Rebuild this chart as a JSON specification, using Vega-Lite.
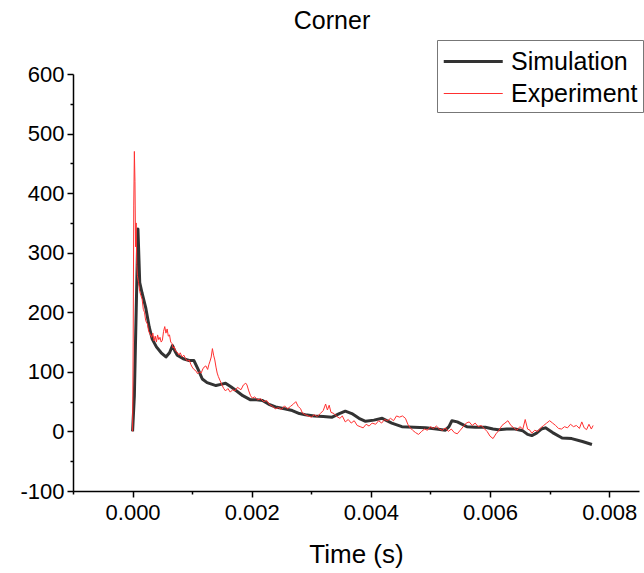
{
  "$schema": "https://vega.github.io/schema/vega-lite/v6.json",
  "width": 566,
  "height": 417,
  "autosize": {"type": "none"},
  "padding": {"left": 73, "top": 74, "right": 5, "bottom": 82},
  "background": "white",
  "config": {
    "font": "Liberation Sans",
    "view": {"stroke": null},
    "axis": {
      "grid": false,
      "domainColor": "#000000",
      "domainWidth": 1.5,
      "tickColor": "#000000",
      "tickWidth": 1.5,
      "labelColor": "#000000",
      "titleColor": "#000000",
      "labelFont": "Liberation Sans",
      "titleFont": "Liberation Sans",
      "labelFontSize": 22,
      "titleFontSize": 26,
      "titleFontWeight": "normal"
    }
  },
  "title": {
    "text": "Corner",
    "fontSize": 25,
    "fontWeight": "normal",
    "font": "Liberation Sans",
    "color": "#000000",
    "anchor": "middle",
    "frame": "group",
    "dx": -24,
    "offset": 6
  },
  "datasets": {
    "sim": [
      {"t": 0, "v": 0, "series": "Simulation"},
      {"t": 0.00003, "v": 60, "series": "Simulation"},
      {"t": 0.00006, "v": 200, "series": "Simulation"},
      {"t": 0.00009, "v": 340, "series": "Simulation"},
      {"t": 0.00012, "v": 250, "series": "Simulation"},
      {"t": 0.00016, "v": 232, "series": "Simulation"},
      {"t": 0.00022, "v": 208, "series": "Simulation"},
      {"t": 0.00028, "v": 175, "series": "Simulation"},
      {"t": 0.00033, "v": 155, "series": "Simulation"},
      {"t": 0.0004, "v": 142, "series": "Simulation"},
      {"t": 0.00048, "v": 132, "series": "Simulation"},
      {"t": 0.00056, "v": 125, "series": "Simulation"},
      {"t": 0.00062, "v": 132, "series": "Simulation"},
      {"t": 0.00067, "v": 144, "series": "Simulation"},
      {"t": 0.00071, "v": 135, "series": "Simulation"},
      {"t": 0.00075, "v": 128, "series": "Simulation"},
      {"t": 0.00085, "v": 122, "series": "Simulation"},
      {"t": 0.00095, "v": 119, "series": "Simulation"},
      {"t": 0.00103, "v": 119, "series": "Simulation"},
      {"t": 0.0011, "v": 104, "series": "Simulation"},
      {"t": 0.00117, "v": 88, "series": "Simulation"},
      {"t": 0.00125, "v": 82, "series": "Simulation"},
      {"t": 0.0014, "v": 77, "series": "Simulation"},
      {"t": 0.00148, "v": 79, "series": "Simulation"},
      {"t": 0.00156, "v": 81, "series": "Simulation"},
      {"t": 0.00165, "v": 75, "series": "Simulation"},
      {"t": 0.00173, "v": 69, "series": "Simulation"},
      {"t": 0.00185, "v": 60, "series": "Simulation"},
      {"t": 0.00198, "v": 53, "series": "Simulation"},
      {"t": 0.00208, "v": 53, "series": "Simulation"},
      {"t": 0.00218, "v": 52, "series": "Simulation"},
      {"t": 0.00228, "v": 46, "series": "Simulation"},
      {"t": 0.0024, "v": 41, "series": "Simulation"},
      {"t": 0.00255, "v": 38, "series": "Simulation"},
      {"t": 0.00268, "v": 35, "series": "Simulation"},
      {"t": 0.0028, "v": 30, "series": "Simulation"},
      {"t": 0.0029, "v": 28, "series": "Simulation"},
      {"t": 0.00305, "v": 26, "series": "Simulation"},
      {"t": 0.0032, "v": 25, "series": "Simulation"},
      {"t": 0.00335, "v": 24, "series": "Simulation"},
      {"t": 0.00347, "v": 30, "series": "Simulation"},
      {"t": 0.00357, "v": 34, "series": "Simulation"},
      {"t": 0.00368, "v": 30, "series": "Simulation"},
      {"t": 0.0038, "v": 22, "series": "Simulation"},
      {"t": 0.00391, "v": 17, "series": "Simulation"},
      {"t": 0.00405, "v": 19, "series": "Simulation"},
      {"t": 0.00419, "v": 22, "series": "Simulation"},
      {"t": 0.00435, "v": 14, "series": "Simulation"},
      {"t": 0.00452, "v": 8, "series": "Simulation"},
      {"t": 0.00472, "v": 7, "series": "Simulation"},
      {"t": 0.00492, "v": 6, "series": "Simulation"},
      {"t": 0.0051, "v": 4, "series": "Simulation"},
      {"t": 0.00525, "v": 2, "series": "Simulation"},
      {"t": 0.00531, "v": 8, "series": "Simulation"},
      {"t": 0.00536, "v": 18, "series": "Simulation"},
      {"t": 0.00545, "v": 16, "series": "Simulation"},
      {"t": 0.00561, "v": 8, "series": "Simulation"},
      {"t": 0.00575, "v": 7, "series": "Simulation"},
      {"t": 0.00592, "v": 7, "series": "Simulation"},
      {"t": 0.00605, "v": 4, "series": "Simulation"},
      {"t": 0.00614, "v": 3, "series": "Simulation"},
      {"t": 0.00628, "v": 4, "series": "Simulation"},
      {"t": 0.00642, "v": 4, "series": "Simulation"},
      {"t": 0.00655, "v": 1, "series": "Simulation"},
      {"t": 0.00663, "v": -5, "series": "Simulation"},
      {"t": 0.0067, "v": -7, "series": "Simulation"},
      {"t": 0.00678, "v": -3, "series": "Simulation"},
      {"t": 0.00686, "v": 4, "series": "Simulation"},
      {"t": 0.00693, "v": 6, "series": "Simulation"},
      {"t": 0.00705, "v": -2, "series": "Simulation"},
      {"t": 0.00721, "v": -11, "series": "Simulation"},
      {"t": 0.00737, "v": -12, "series": "Simulation"},
      {"t": 0.00755, "v": -17, "series": "Simulation"},
      {"t": 0.00771, "v": -22, "series": "Simulation"}
    ],
    "exp": [
      {"t": 0, "v": 0, "series": "Experiment"},
      {"t": 0.00001, "v": 150, "series": "Experiment"},
      {"t": 0.00002, "v": 380, "series": "Experiment"},
      {"t": 0.00003, "v": 470, "series": "Experiment"},
      {"t": 0.00004, "v": 420, "series": "Experiment"},
      {"t": 0.00005, "v": 310, "series": "Experiment"},
      {"t": 0.00006, "v": 350, "series": "Experiment"},
      {"t": 0.00007, "v": 280, "series": "Experiment"},
      {"t": 0.00008, "v": 262, "series": "Experiment"},
      {"t": 0.0001, "v": 250, "series": "Experiment"},
      {"t": 0.00012, "v": 235, "series": "Experiment"},
      {"t": 0.00014, "v": 228, "series": "Experiment"},
      {"t": 0.00016, "v": 222, "series": "Experiment"},
      {"t": 0.00018, "v": 205, "series": "Experiment"},
      {"t": 0.0002, "v": 200, "series": "Experiment"},
      {"t": 0.00022, "v": 186, "series": "Experiment"},
      {"t": 0.00025, "v": 180, "series": "Experiment"},
      {"t": 0.00027, "v": 168, "series": "Experiment"},
      {"t": 0.0003, "v": 162, "series": "Experiment"},
      {"t": 0.00032, "v": 158, "series": "Experiment"},
      {"t": 0.00034, "v": 165, "series": "Experiment"},
      {"t": 0.00036, "v": 152, "series": "Experiment"},
      {"t": 0.00038, "v": 160, "series": "Experiment"},
      {"t": 0.0004, "v": 150, "series": "Experiment"},
      {"t": 0.00042, "v": 162, "series": "Experiment"},
      {"t": 0.00044, "v": 154, "series": "Experiment"},
      {"t": 0.00046, "v": 158, "series": "Experiment"},
      {"t": 0.00048, "v": 150, "series": "Experiment"},
      {"t": 0.0005, "v": 153, "series": "Experiment"},
      {"t": 0.00052, "v": 168, "series": "Experiment"},
      {"t": 0.00054, "v": 176, "series": "Experiment"},
      {"t": 0.00056, "v": 165, "series": "Experiment"},
      {"t": 0.00058, "v": 172, "series": "Experiment"},
      {"t": 0.0006, "v": 160, "series": "Experiment"},
      {"t": 0.00062, "v": 162, "series": "Experiment"},
      {"t": 0.00064, "v": 150, "series": "Experiment"},
      {"t": 0.00066, "v": 148, "series": "Experiment"},
      {"t": 0.00068, "v": 140, "series": "Experiment"},
      {"t": 0.0007, "v": 142, "series": "Experiment"},
      {"t": 0.00072, "v": 135, "series": "Experiment"},
      {"t": 0.00075, "v": 133, "series": "Experiment"},
      {"t": 0.00078, "v": 128, "series": "Experiment"},
      {"t": 0.0008, "v": 132, "series": "Experiment"},
      {"t": 0.00083, "v": 125, "series": "Experiment"},
      {"t": 0.00086, "v": 128, "series": "Experiment"},
      {"t": 0.00089, "v": 122, "series": "Experiment"},
      {"t": 0.00092, "v": 118, "series": "Experiment"},
      {"t": 0.00095, "v": 120, "series": "Experiment"},
      {"t": 0.00098, "v": 112, "series": "Experiment"},
      {"t": 0.001, "v": 108, "series": "Experiment"},
      {"t": 0.00103, "v": 104, "series": "Experiment"},
      {"t": 0.00106, "v": 102, "series": "Experiment"},
      {"t": 0.00109, "v": 97, "series": "Experiment"},
      {"t": 0.00112, "v": 100, "series": "Experiment"},
      {"t": 0.00115, "v": 98, "series": "Experiment"},
      {"t": 0.00118, "v": 105, "series": "Experiment"},
      {"t": 0.0012, "v": 108, "series": "Experiment"},
      {"t": 0.00123, "v": 110, "series": "Experiment"},
      {"t": 0.00126, "v": 104, "series": "Experiment"},
      {"t": 0.00128, "v": 112, "series": "Experiment"},
      {"t": 0.0013, "v": 118, "series": "Experiment"},
      {"t": 0.00132, "v": 125, "series": "Experiment"},
      {"t": 0.00134, "v": 139, "series": "Experiment"},
      {"t": 0.00136, "v": 128, "series": "Experiment"},
      {"t": 0.00138, "v": 120, "series": "Experiment"},
      {"t": 0.0014, "v": 108, "series": "Experiment"},
      {"t": 0.00142, "v": 98, "series": "Experiment"},
      {"t": 0.00144, "v": 92, "series": "Experiment"},
      {"t": 0.00147, "v": 85, "series": "Experiment"},
      {"t": 0.0015, "v": 78, "series": "Experiment"},
      {"t": 0.00153, "v": 72, "series": "Experiment"},
      {"t": 0.00156, "v": 68, "series": "Experiment"},
      {"t": 0.0016, "v": 72, "series": "Experiment"},
      {"t": 0.00164, "v": 66, "series": "Experiment"},
      {"t": 0.00168, "v": 70, "series": "Experiment"},
      {"t": 0.00172, "v": 68, "series": "Experiment"},
      {"t": 0.00176, "v": 74, "series": "Experiment"},
      {"t": 0.00179, "v": 72, "series": "Experiment"},
      {"t": 0.00182, "v": 70, "series": "Experiment"},
      {"t": 0.00186, "v": 78, "series": "Experiment"},
      {"t": 0.0019, "v": 81, "series": "Experiment"},
      {"t": 0.00192, "v": 78, "series": "Experiment"},
      {"t": 0.00195, "v": 68, "series": "Experiment"},
      {"t": 0.00198, "v": 60, "series": "Experiment"},
      {"t": 0.00201, "v": 56, "series": "Experiment"},
      {"t": 0.00205, "v": 58, "series": "Experiment"},
      {"t": 0.0021, "v": 53, "series": "Experiment"},
      {"t": 0.00215, "v": 55, "series": "Experiment"},
      {"t": 0.0022, "v": 50, "series": "Experiment"},
      {"t": 0.00225, "v": 52, "series": "Experiment"},
      {"t": 0.0023, "v": 45, "series": "Experiment"},
      {"t": 0.00235, "v": 42, "series": "Experiment"},
      {"t": 0.0024, "v": 38, "series": "Experiment"},
      {"t": 0.00245, "v": 40, "series": "Experiment"},
      {"t": 0.0025, "v": 37, "series": "Experiment"},
      {"t": 0.00255, "v": 43, "series": "Experiment"},
      {"t": 0.0026, "v": 38, "series": "Experiment"},
      {"t": 0.00265, "v": 42, "series": "Experiment"},
      {"t": 0.0027, "v": 46, "series": "Experiment"},
      {"t": 0.00274, "v": 50, "series": "Experiment"},
      {"t": 0.00278, "v": 42, "series": "Experiment"},
      {"t": 0.00282, "v": 38, "series": "Experiment"},
      {"t": 0.00285, "v": 31, "series": "Experiment"},
      {"t": 0.0029, "v": 28, "series": "Experiment"},
      {"t": 0.00295, "v": 26, "series": "Experiment"},
      {"t": 0.003, "v": 24, "series": "Experiment"},
      {"t": 0.00305, "v": 28, "series": "Experiment"},
      {"t": 0.0031, "v": 25, "series": "Experiment"},
      {"t": 0.00315, "v": 30, "series": "Experiment"},
      {"t": 0.0032, "v": 35, "series": "Experiment"},
      {"t": 0.00324, "v": 46, "series": "Experiment"},
      {"t": 0.00327, "v": 36, "series": "Experiment"},
      {"t": 0.0033, "v": 44, "series": "Experiment"},
      {"t": 0.00333, "v": 32, "series": "Experiment"},
      {"t": 0.00338, "v": 30, "series": "Experiment"},
      {"t": 0.00343, "v": 25, "series": "Experiment"},
      {"t": 0.00348, "v": 22, "series": "Experiment"},
      {"t": 0.00352, "v": 26, "series": "Experiment"},
      {"t": 0.00357, "v": 16, "series": "Experiment"},
      {"t": 0.00362, "v": 20, "series": "Experiment"},
      {"t": 0.00367, "v": 14, "series": "Experiment"},
      {"t": 0.00372, "v": 18, "series": "Experiment"},
      {"t": 0.00377, "v": 10, "series": "Experiment"},
      {"t": 0.00382, "v": 8, "series": "Experiment"},
      {"t": 0.00387, "v": 6, "series": "Experiment"},
      {"t": 0.00392, "v": 12, "series": "Experiment"},
      {"t": 0.00397, "v": 9, "series": "Experiment"},
      {"t": 0.00402, "v": 14, "series": "Experiment"},
      {"t": 0.00408, "v": 12, "series": "Experiment"},
      {"t": 0.00413, "v": 18, "series": "Experiment"},
      {"t": 0.00418, "v": 14, "series": "Experiment"},
      {"t": 0.00423, "v": 20, "series": "Experiment"},
      {"t": 0.00428, "v": 18, "series": "Experiment"},
      {"t": 0.00433, "v": 22, "series": "Experiment"},
      {"t": 0.00438, "v": 18, "series": "Experiment"},
      {"t": 0.00443, "v": 26, "series": "Experiment"},
      {"t": 0.00448, "v": 24, "series": "Experiment"},
      {"t": 0.00453, "v": 26, "series": "Experiment"},
      {"t": 0.00458, "v": 22, "series": "Experiment"},
      {"t": 0.00462, "v": 12, "series": "Experiment"},
      {"t": 0.00466, "v": 6, "series": "Experiment"},
      {"t": 0.0047, "v": 2, "series": "Experiment"},
      {"t": 0.00475, "v": -2, "series": "Experiment"},
      {"t": 0.0048, "v": -5, "series": "Experiment"},
      {"t": 0.00485, "v": 0, "series": "Experiment"},
      {"t": 0.0049, "v": 4, "series": "Experiment"},
      {"t": 0.00495, "v": 2, "series": "Experiment"},
      {"t": 0.005, "v": 8, "series": "Experiment"},
      {"t": 0.00505, "v": 5, "series": "Experiment"},
      {"t": 0.0051, "v": 9, "series": "Experiment"},
      {"t": 0.00515, "v": 4, "series": "Experiment"},
      {"t": 0.0052, "v": 2, "series": "Experiment"},
      {"t": 0.00525, "v": 6, "series": "Experiment"},
      {"t": 0.0053, "v": 0, "series": "Experiment"},
      {"t": 0.00535, "v": 4, "series": "Experiment"},
      {"t": 0.0054, "v": -2, "series": "Experiment"},
      {"t": 0.00545, "v": -4, "series": "Experiment"},
      {"t": 0.0055, "v": 2, "series": "Experiment"},
      {"t": 0.00555, "v": 8, "series": "Experiment"},
      {"t": 0.0056, "v": 14, "series": "Experiment"},
      {"t": 0.00565, "v": 16, "series": "Experiment"},
      {"t": 0.0057, "v": 10, "series": "Experiment"},
      {"t": 0.00575, "v": 14, "series": "Experiment"},
      {"t": 0.0058, "v": 8, "series": "Experiment"},
      {"t": 0.00585, "v": 10, "series": "Experiment"},
      {"t": 0.0059, "v": 5, "series": "Experiment"},
      {"t": 0.00595, "v": 0, "series": "Experiment"},
      {"t": 0.006, "v": -8, "series": "Experiment"},
      {"t": 0.00605, "v": -12, "series": "Experiment"},
      {"t": 0.0061, "v": -4, "series": "Experiment"},
      {"t": 0.00615, "v": 2, "series": "Experiment"},
      {"t": 0.0062, "v": 10, "series": "Experiment"},
      {"t": 0.00625, "v": 14, "series": "Experiment"},
      {"t": 0.0063, "v": 18, "series": "Experiment"},
      {"t": 0.00635, "v": 10, "series": "Experiment"},
      {"t": 0.0064, "v": 6, "series": "Experiment"},
      {"t": 0.00645, "v": 2, "series": "Experiment"},
      {"t": 0.0065, "v": 8, "series": "Experiment"},
      {"t": 0.00655, "v": 4, "series": "Experiment"},
      {"t": 0.00659, "v": 20, "series": "Experiment"},
      {"t": 0.00663, "v": 4, "series": "Experiment"},
      {"t": 0.00667, "v": 2, "series": "Experiment"},
      {"t": 0.0067, "v": -3, "series": "Experiment"},
      {"t": 0.00675, "v": 2, "series": "Experiment"},
      {"t": 0.0068, "v": 0, "series": "Experiment"},
      {"t": 0.00685, "v": 6, "series": "Experiment"},
      {"t": 0.0069, "v": 10, "series": "Experiment"},
      {"t": 0.00695, "v": 14, "series": "Experiment"},
      {"t": 0.007, "v": 18, "series": "Experiment"},
      {"t": 0.00705, "v": 14, "series": "Experiment"},
      {"t": 0.0071, "v": 10, "series": "Experiment"},
      {"t": 0.00715, "v": 5, "series": "Experiment"},
      {"t": 0.0072, "v": 4, "series": "Experiment"},
      {"t": 0.00725, "v": 8, "series": "Experiment"},
      {"t": 0.0073, "v": 6, "series": "Experiment"},
      {"t": 0.00735, "v": 12, "series": "Experiment"},
      {"t": 0.0074, "v": 8, "series": "Experiment"},
      {"t": 0.00745, "v": 10, "series": "Experiment"},
      {"t": 0.0075, "v": 5, "series": "Experiment"},
      {"t": 0.00754, "v": 16, "series": "Experiment"},
      {"t": 0.00758, "v": 6, "series": "Experiment"},
      {"t": 0.00762, "v": 3, "series": "Experiment"},
      {"t": 0.00766, "v": 12, "series": "Experiment"},
      {"t": 0.0077, "v": 4, "series": "Experiment"},
      {"t": 0.00773, "v": 10, "series": "Experiment"}
    ]
  },
  "encoding": {
    "x": {
      "field": "t",
      "type": "quantitative",
      "scale": {"domain": [-0.001, 0.0085], "nice": false, "zero": false},
      "axis": {
        "title": "Time (s)",
        "values": [-0.001, 0, 0.001, 0.002, 0.003, 0.004, 0.005, 0.006, 0.007, 0.008],
        "labelExpr": "abs(round(datum.value*1000)) % 2 == 0 ? format(datum.value, '.3f') : ''",
        "tickSize": {"condition": {"test": "abs(round(datum.value*1000)) % 2 == 1", "value": 3}, "value": 6},
        "labelPadding": 5,
        "titlePadding": 18
      }
    },
    "y": {
      "field": "v",
      "type": "quantitative",
      "scale": {"domain": [-100, 600], "nice": false, "zero": false},
      "axis": {
        "title": null,
        "values": [-100, -50, 0, 50, 100, 150, 200, 250, 300, 350, 400, 450, 500, 550, 600],
        "labelExpr": "datum.value % 100 == 0 ? '' + datum.value : ''",
        "tickSize": {"condition": {"test": "datum.value % 100 != 0", "value": 3}, "value": 6},
        "labelPadding": 3
      }
    },
    "color": {
      "field": "series",
      "type": "nominal",
      "scale": {"domain": ["Simulation", "Experiment"], "range": ["#333333", "#ff3030"]},
      "legend": {
        "title": null,
        "orient": "none",
        "legendX": 364,
        "legendY": -34,
        "symbolType": "M-1,0H3",
        "symbolSize": 870,
        "labelFontSize": 25,
        "labelColor": "#000000",
        "labelLimit": 400,
        "labelOffset": 36,
        "strokeColor": "#777777",
        "fillColor": "#ffffff",
        "padding": 5,
        "rowPadding": 3
      }
    },
    "strokeWidth": {
      "field": "series",
      "type": "nominal",
      "scale": {"domain": ["Simulation", "Experiment"], "range": [3, 1]},
      "legend": {
        "title": null,
        "orient": "none",
        "legendX": 364,
        "legendY": -34,
        "symbolType": "M-1,0H3",
        "symbolSize": 870,
        "labelFontSize": 25,
        "labelColor": "#000000",
        "labelLimit": 400,
        "labelOffset": 36,
        "strokeColor": "#777777",
        "fillColor": "#ffffff",
        "padding": 5,
        "rowPadding": 3
      }
    }
  },
  "layer": [
    {"data": {"name": "sim"}, "mark": {"type": "line", "strokeJoin": "round"}},
    {"data": {"name": "exp"}, "mark": {"type": "line", "strokeJoin": "round"}}
  ]
}
